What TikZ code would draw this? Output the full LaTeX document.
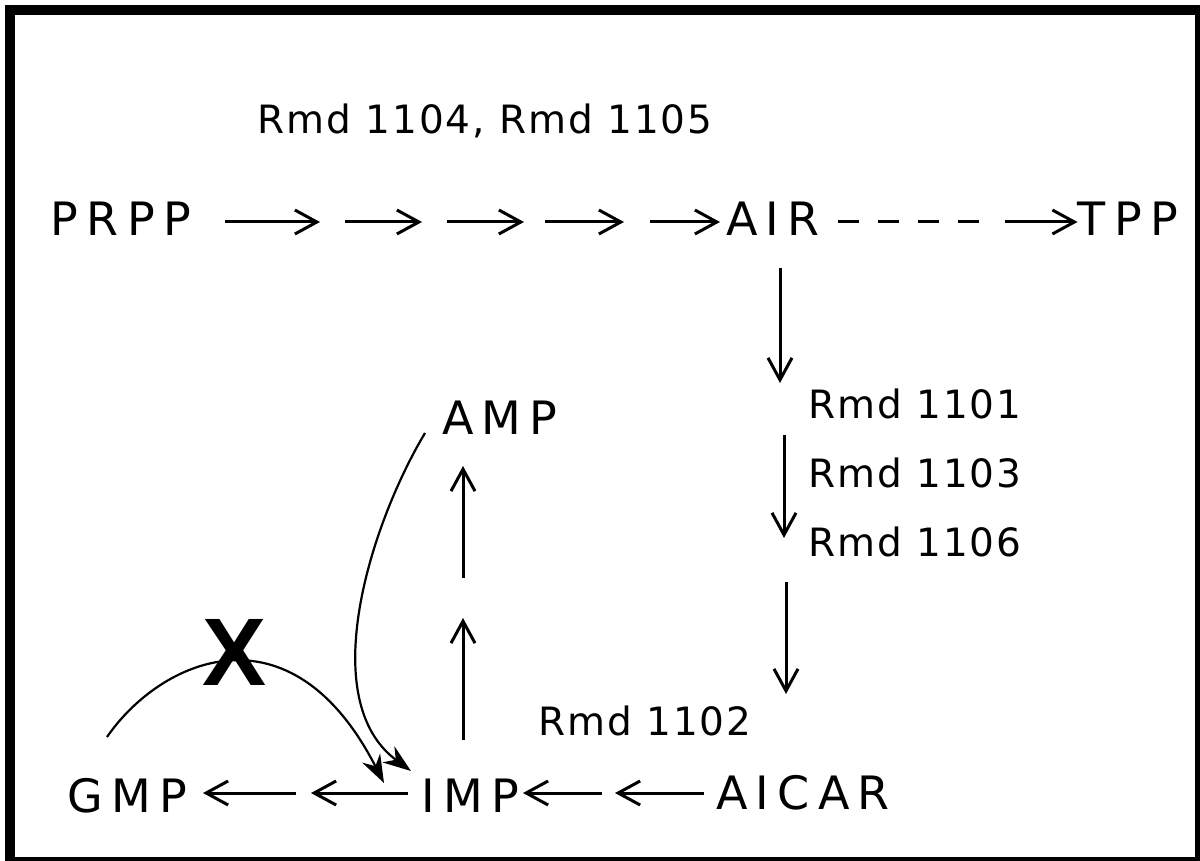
\documentclass[tikz,border=0pt]{standalone}
\usepackage{fontspec}
\setmainfont{DejaVu Sans}
\newfontfamily\capsfont[LetterSpace=18]{DejaVu Sans}
\newfontfamily\rmdfont[LetterSpace=5]{DejaVu Sans}
\newfontfamily\markfont{Liberation Sans}
\usepackage{tikz}
\usetikzlibrary{arrows.meta, positioning}

\begin{document}
\begin{tikzpicture}[x=0.5pt, y=-0.5pt,
  cmp/.style={font=\capsfont\fontsize{23}{27}\selectfont, inner sep=0pt},
  rmd/.style={font=\rmdfont\fontsize{19.5}{23}\selectfont, inner sep=0pt},
  rxn/.style={-{Straight Barb[length=11pt,width=12pt,line width=1.5pt]}, line width=1.5pt},
  curv/.style={-{Stealth[length=14pt,width=10pt]}, line width=1.1pt}]
  \useasboundingbox (0,0) rectangle (1200,861);

  % Frame
  \draw[line width=5pt] (10,10) rectangle (1200,862);

  % Compounds
  \node[cmp] (prpp) at (121,219) {PRPP};
  \node[cmp] (air) at (773,219) {AIR};
  \node[cmp] (tpp) at (1128,219) {TPP};
  \node[cmp] (amp) at (500,418) {AMP};
  \node[cmp] (imp) at (470,796) {IMP};
  \node[cmp] (gmp) at (127,796) {GMP};
  \node[cmp] (aicar) at (803,793) {AICAR};

  % Mutant labels
  \node[rmd] (rmd45) at (485,121) {Rmd 1104, Rmd 1105};
  \node[rmd, anchor=west] (rmd1) at (808,404) {Rmd 1101};
  \node[rmd, anchor=west] (rmd3) at (808,473) {Rmd 1103};
  \node[rmd, anchor=west] (rmd6) at (808,542) {Rmd 1106};
  \node[rmd] (rmd2) at (645,721) {Rmd 1102};

  % Blocked step
  \node[font=\markfont\bfseries\fontsize{48}{48}\selectfont, inner sep=0pt] (block) at (235,652) {X};

  % PRPP to AIR
  \foreach \i/\a/\b in {1/225/320, 2/345/422, 3/447/524, 4/545/624, 5/650/720} {
    \coordinate (r\i s) at (\a,222);
    \coordinate (r\i e) at (\b,222);
    \draw[rxn] (r\i s) -- (r\i e);
  }

  % AIR to TPP
  \coordinate (d1) at (838,222);
  \coordinate (d2) at (985,222);
  \coordinate (d3) at (1005,222);
  \draw[line width=1.5pt, dash pattern=on 10.5pt off 9.5pt] (d1) -- (d2);
  \draw[rxn] (d3) -- (d3 -| tpp.west);

  % AIR down to AICAR
  \foreach \i/\x/\a/\b in {1/780/268/383, 2/784/435/538, 3/786/582/694} {
    \coordinate (v\i s) at (\x,\a);
    \coordinate (v\i e) at (\x,\b);
    \draw[rxn] (v\i s) -- (v\i e);
  }

  % AICAR to IMP to GMP
  \foreach \i/\a/\b in {1/704/615, 2/602/523, 3/408/311, 4/296/203} {
    \coordinate (h\i s) at (\a,793);
    \coordinate (h\i e) at (\b,793);
    \draw[rxn] (h\i s) -- (h\i e);
  }

  % IMP up to AMP
  \foreach \i/\a/\b in {1/740/618, 2/578/466} {
    \coordinate (u\i s) at (463,\a);
    \coordinate (u\i e) at (463,\b);
    \draw[rxn] (u\i s) -- (u\i e);
  }

  % AMP back to IMP
  \coordinate (ampout) at (425,433);
  \coordinate (impin1) at (411,771);
  \draw[curv] (ampout) .. controls (370,525) and (315,700) .. (impin1);

  % GMP back to IMP (blocked)
  \coordinate (gmpout) at (107,737);
  \coordinate (impin2) at (384,783);
  \draw[curv] (gmpout) .. controls (160,660) and (290,600) .. (impin2);
\end{tikzpicture}
\end{document}
